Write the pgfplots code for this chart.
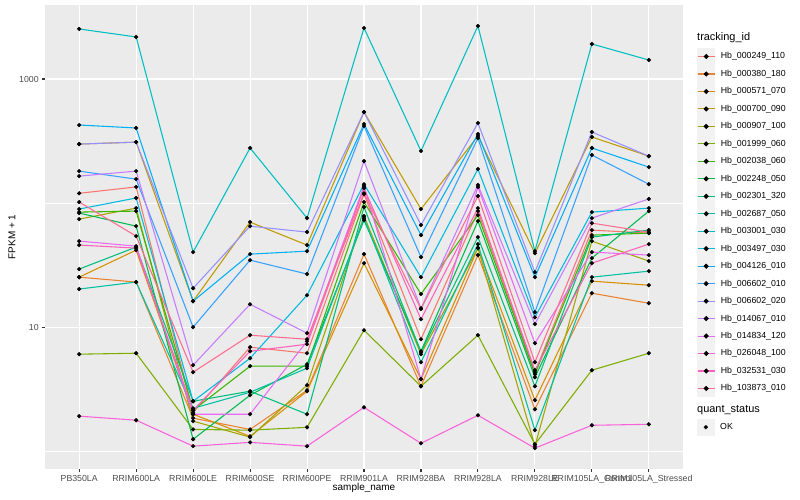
\documentclass[border=0pt]{standalone}
\usepackage{fontspec}
\setmainfont{Liberation Sans}
\usepackage{pgfplots}
\usepackage{pgfplotstable}
\pgfplotsset{compat=1.18}

\definecolor{c1}{HTML}{F8766D}
\definecolor{c2}{HTML}{EA8331}
\definecolor{c3}{HTML}{D89000}
\definecolor{c4}{HTML}{C09B00}
\definecolor{c5}{HTML}{A3A500}
\definecolor{c6}{HTML}{7CAE00}
\definecolor{c7}{HTML}{39B600}
\definecolor{c8}{HTML}{00BB4E}
\definecolor{c9}{HTML}{00BF7D}
\definecolor{c10}{HTML}{00C1A3}
\definecolor{c11}{HTML}{00BFC4}
\definecolor{c12}{HTML}{00BAE0}
\definecolor{c13}{HTML}{00B0F6}
\definecolor{c14}{HTML}{35A2FF}
\definecolor{c15}{HTML}{9590FF}
\definecolor{c16}{HTML}{C77CFF}
\definecolor{c17}{HTML}{E76BF3}
\definecolor{c18}{HTML}{FA62DB}
\definecolor{c19}{HTML}{FF62BC}
\definecolor{c20}{HTML}{FF6C91}
\definecolor{panelgray}{HTML}{EBEBEB}
\definecolor{keygray}{HTML}{F2F2F2}
\definecolor{gray30}{HTML}{4D4D4D}
\definecolor{gray20}{HTML}{333333}

% FPKM + 1, one row per sample, one column per tracking_id
\pgfplotstableread{
x  s1   s2   s3   s4   s5   s6   s7   s8   s9   s10  s11  s12  s13  s14  s15  s16  s17  s18  s19  s20
0  120  25.3 25.3 299  74.3 6.06 84.6 83.1 29.4 20.3 2531 89.5 426  181  299  165  49.4 1.92 45.9 102
1  135  23.1 41.8 310  91.1 6.17 86.2 65.2 44.2 23.1 2182 110  403  156  310  181  45.0 1.78 43.4 54.2
2  2.06 1.85 1.99 16.2 1.75 1.50 2.14 1.25 2.53 2.22 40.3 2.53 16.2 10.0 20.6 4.94 1.99 1.10 2.14 4.34
3  6.90 1.50 1.32 70.3 1.30 1.48 4.85 2.83 3.05 2.99 278  5.62 38.8 34.7 65.2 15.3 1.99 1.18 6.40 8.62
4  6.17 3.10 3.05 45.9 3.41 1.56 4.85 5.03 1.99 4.67 75.7 18.1 41.0 26.8 58.4 8.95 7.71 1.10 7.29 8.00
5  118  38.8 32.8 542  78.6 9.46 102  72.9 92.8 75.7 2578 142  434  418  542  218  137  2.26 132  120
6  8.00 3.34 3.81 89.5 6.06 3.34 18.5 6.40 6.29 5.22 263  25.3 55.2 36.7 66.5 14.2 3.81 1.16 11.6 14.0
7  86.2 38.1 43.4 347  43.4 8.62 80.0 71.6 53.2 46.7 2676 188  360  334  442  140  135  1.95 91.1 114
8  4.34 2.18 2.58 39.5 1.10 1.14 4.18 3.95 3.34 1.48 41.0 12.0 25.3 13.2 27.8 10.6 7.43 1.06 4.50 5.22
9  60.6 18.8 23.5 341  49.4 4.50 55.2 36.0 53.2 25.3 1916 84.6 278  244  374  75.7 40.3 1.62 32.8 69.0
10 57.3 15.6 21.8 239  34.1 6.17 57.3 86.2 60.6 28.3 1423 91.1 195  142  239  108  38.1 1.65 46.7 58.4
}\fpkm

\pgfplotsset{
  ggkey/.style={
    legend style={at={(1,1)}, anchor=north west, xshift=14bp, yshift=#1,
      draw=none, fill=none, inner sep=0pt, outer sep=0pt,
      row sep=0pt, column sep=5.5bp,
      font=\fontsize{8.8}{10}\selectfont,
      nodes={inner sep=0pt, text=black}},
    legend cell align=left,
  },
}

\begin{document}
\begin{tikzpicture}
\useasboundingbox (0,0) rectangle (800bp,500bp);
\fill[white] (0,0) rectangle (800bp,500bp);

\begin{axis}[
  at={(45bp,31bp)}, anchor=south west,
  width=638bp, height=464bp, scale only axis,
  ymode=log, ymin=0.72, ymax=3950,
  xmin=-0.6, xmax=10.6,
  axis background/.style={fill=panelgray},
  axis line style={draw=none},
  tick pos=left, tick align=outside,
  major tick length=2.75bp, minor tick length=0pt,
  tick style={gray20, line width=1.07bp},
  xtick={0,...,10},
  xticklabels={PB350LA,RRIM600LA,RRIM600LE,RRIM600SE,RRIM600PE,RRIM901LA,RRIM928BA,RRIM928LA,RRIM928LE,RRIM105LA\_Control,RRIM105LA\_Stressed},
  ytick={10,1000}, yticklabels={10,1000},
  minor ytick={1,100},
  /pgf/number format/assume math mode=true,
  xmajorgrids, ymajorgrids, yminorgrids,
  major grid style={white, line width=1.07bp},
  minor grid style={white, line width=0.53bp},
  ticklabel style={font=\fontsize{8.8}{10}\selectfont, text=gray30},
  xlabel={sample\_name}, ylabel={FPKM + 1},
  label style={font=\fontsize{11}{13}\selectfont},
  every axis x label/.style={at={(axis description cs:0.5,-0.041)}, anchor=center},
  every axis y label/.style={at={(axis description cs:-0.0517,0.5)}, rotate=90, anchor=center},
  ggkey=-42.8bp,
  legend image code/.code={
    \fill[keygray] (0bp,-8.2bp) rectangle (17.3bp,8.2bp);
    \draw[#1, line width=1.07bp] (0bp,0bp) -- (17.3bp,0bp);
    \fill[black] (8.65bp,0bp) circle (1.9bp);
  },
  legend entries={Hb\_000249\_110,Hb\_000380\_180,Hb\_000571\_070,Hb\_000700\_090,Hb\_000907\_100,Hb\_001999\_060,Hb\_002038\_060,Hb\_002248\_050,Hb\_002301\_320,Hb\_002687\_050,Hb\_003001\_030,Hb\_003497\_030,Hb\_004126\_010,Hb\_006602\_010,Hb\_006602\_020,Hb\_014067\_010,Hb\_014834\_120,Hb\_026048\_100,Hb\_032531\_030,Hb\_103873\_010},
]
\pgfplotsinvokeforeach{1,...,20}{
  \addplot[color=c#1, line width=1.07bp, mark=none] table[x=x, y=s#1] {\fpkm};
}
\pgfplotsinvokeforeach{1,...,20}{
  \addplot[forget plot, only marks, mark=*, mark size=1.9bp,
    mark options={fill=black, draw=none}] table[x=x, y=s#1] {\fpkm};
}
\end{axis}

% second legend: quant_status
\begin{axis}[
  at={(45bp,31bp)}, anchor=south west,
  width=638bp, height=464bp, scale only axis,
  hide axis, xmin=0, xmax=1, ymin=0, ymax=1,
  ggkey=-413.8bp,
  legend image code/.code={
    \fill[keygray] (0bp,-8.2bp) rectangle (17.3bp,8.2bp);
    \fill[black] (8.65bp,0bp) circle (1.9bp);
  },
]
\addlegendimage{black}
\addlegendentry{OK}
\end{axis}

\node[anchor=west, font=\fontsize{11}{13}\selectfont, inner sep=0pt] at (697bp,462bp) {tracking\_id};
\node[anchor=west, font=\fontsize{11}{13}\selectfont, inner sep=0pt] at (697bp,90bp) {quant\_status};
\end{tikzpicture}
\end{document}
